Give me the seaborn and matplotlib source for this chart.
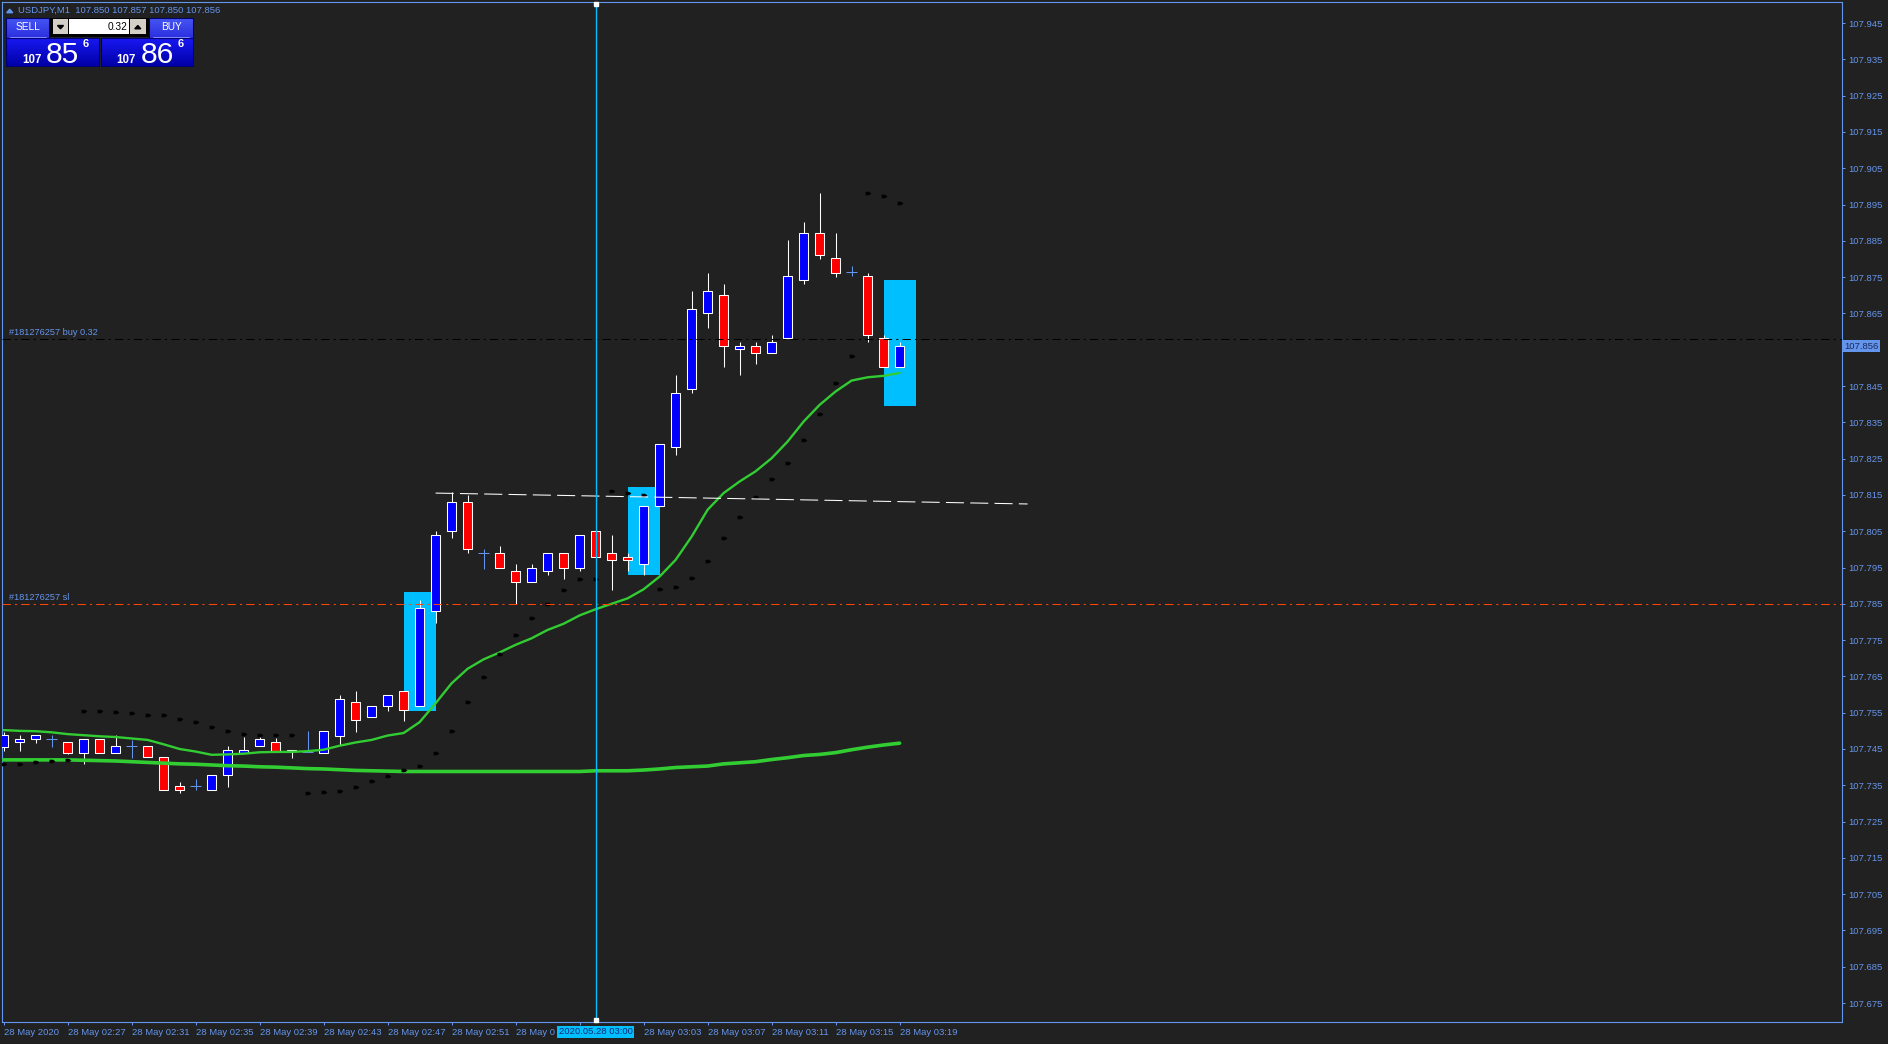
import matplotlib
matplotlib.use("Agg")
import matplotlib.pyplot as plt
from matplotlib.patches import Rectangle
from matplotlib.path import Path
from matplotlib.colors import LinearSegmentedColormap
from matplotlib.transforms import ScaledTranslation
import numpy as np
import seaborn as sns

# USDJPY M1 candles, 02:23 .. 03:19
opens = [107.7456, 107.7468, 107.7477, 107.7477, 107.7468, 107.7438, 107.7477, 107.7438, 107.7457, 107.7457,
         107.7427, 107.7347, 107.7347, 107.7336, 107.7377, 107.7440, 107.7457, 107.7468, 107.7446, 107.7443,
         107.7438, 107.7487, 107.7579, 107.7538, 107.7568, 107.7609, 107.7568, 107.7830, 107.8050, 107.8130,
         107.7989, 107.7989, 107.7940, 107.7910, 107.7940, 107.7989, 107.7948, 107.8050, 107.7989, 107.7978,
         107.7959, 107.8119, 107.8282, 107.8441, 107.8651, 107.8700, 107.8552, 107.8560, 107.8540, 107.8582,
         107.8742, 107.8871, 107.8802, 107.8764, 107.8753, 107.8582, 107.8502]
highs = [107.7498, 107.7488, 107.7488, 107.7488, 107.7468, 107.7477, 107.7477, 107.7488, 107.7475, 107.7457,
         107.7427, 107.7359, 107.7367, 107.7377, 107.7458, 107.7482, 107.7482, 107.7479, 107.7446, 107.7500,
         107.7500, 107.7599, 107.7610, 107.7568, 107.7598, 107.7609, 107.7861, 107.8051, 107.8159, 107.8151,
         107.8001, 107.8010, 107.7959, 107.7959, 107.7989, 107.7989, 107.8039, 107.8050, 107.8040, 107.7989,
         107.8119, 107.8290, 107.8481, 107.8712, 107.8762, 107.8731, 107.8571, 107.8571, 107.8591, 107.8853,
         107.8902, 107.8982, 107.8872, 107.8780, 107.8761, 107.8590, 107.8571]
lows = [107.7445, 107.7445, 107.7467, 107.7456, 107.7436, 107.7408, 107.7438, 107.7438, 107.7426, 107.7427,
        107.7336, 107.7328, 107.7336, 107.7336, 107.7346, 107.7440, 107.7457, 107.7443, 107.7426, 107.7443,
        107.7438, 107.7461, 107.7498, 107.7538, 107.7556, 107.7528, 107.7568, 107.7798, 107.8030, 107.7989,
        107.7946, 107.7948, 107.7849, 107.7910, 107.7928, 107.7918, 107.7939, 107.7978, 107.7888, 107.7939,
        107.7928, 107.8119, 107.8259, 107.8430, 107.8611, 107.8501, 107.8479, 107.8510, 107.8540, 107.8582,
        107.8731, 107.8800, 107.8751, 107.8752, 107.8570, 107.8502, 107.8502]
closes = [107.7488, 107.7477, 107.7488, 107.7477, 107.7438, 107.7477, 107.7438, 107.7457, 107.7457, 107.7427,
          107.7336, 107.7336, 107.7347, 107.7377, 107.7446, 107.7448, 107.7477, 107.7443, 107.7445, 107.7443,
          107.7500, 107.7587, 107.7529, 107.7568, 107.7598, 107.7558, 107.7838, 107.8039, 107.8130, 107.8000,
          107.7989, 107.7948, 107.7910, 107.7948, 107.7989, 107.7948, 107.8039, 107.7978, 107.7970, 107.7970,
          107.8119, 107.8290, 107.8430, 107.8662, 107.8711, 107.8560, 107.8560, 107.8540, 107.8571, 107.8753,
          107.8871, 107.8810, 107.8761, 107.8764, 107.8590, 107.8502, 107.8560]

fast_ma = [107.7502, 107.7500, 107.7499, 107.7496, 107.7491, 107.7488, 107.7485, 107.7483, 107.7479, 107.7475,
           107.7463, 107.7450, 107.7443, 107.7434, 107.7435, 107.7437, 107.7441, 107.7442, 107.7442, 107.7444,
           107.7448, 107.7459, 107.7468, 107.7475, 107.7487, 107.7494, 107.7524, 107.7576, 107.7631, 107.7671,
           107.7697, 107.7716, 107.7737, 107.7755, 107.7778, 107.7795, 107.7818, 107.7835, 107.7850, 107.7865,
           107.7890, 107.7925, 107.7971, 107.8035, 107.8109, 107.8155, 107.8187, 107.8215, 107.8251, 107.8297,
           107.8352, 107.8398, 107.8435, 107.8465, 107.8474, 107.8478, 107.8486]
slow_ma = [107.7420, 107.7420, 107.7420, 107.7420, 107.7420, 107.7419, 107.7418, 107.7417, 107.7415, 107.7413,
           107.7411, 107.7409, 107.7408, 107.7406, 107.7404, 107.7403, 107.7401, 107.7400, 107.7398, 107.7396,
           107.7395, 107.7393, 107.7391, 107.7390, 107.7389, 107.7388, 107.7388, 107.7388, 107.7388, 107.7388,
           107.7388, 107.7388, 107.7388, 107.7388, 107.7388, 107.7388, 107.7388, 107.7390, 107.7390, 107.7390,
           107.7392, 107.7395, 107.7399, 107.7401, 107.7403, 107.7409, 107.7412, 107.7415, 107.7421, 107.7426,
           107.7432, 107.7435, 107.7440, 107.7448, 107.7455, 107.7461, 107.7466]
sar = [107.7408, 107.7408, 107.7413, 107.7417, 107.7421, 107.7556, 107.7554, 107.7551, 107.7548, 107.7545,
       107.7543, 107.7534, 107.7523, 107.7510, 107.7499, 107.7490, 107.7488, 107.7488, 107.7488, 107.7328,
       107.7331, 107.7334, 107.7345, 107.7361, 107.7375, 107.7392, 107.7403, 107.7438, 107.7499, 107.7579,
       107.7648, 107.7711, 107.7764, 107.7810, 107.7849, 107.7888, 107.7918, 107.7918, 107.8160, 107.8155,
       107.8149, 107.7890, 107.7896, 107.7921, 107.7968, 107.8031, 107.8089, 107.8144, 107.8193, 107.8237,
       107.8301, 107.8372, 107.8458, 107.8532, 107.8981, 107.8973, 107.8954]

time_ticks = list(range(0, 57, 4))
# the 02:55 label is cut short by the highlighted 03:00 label, the 02:59 one is hidden by it
time_labels = ["28 May 2020", "28 May 02:27", "28 May 02:31", "28 May 02:35", "28 May 02:39",
               "28 May 02:43", "28 May 02:47", "28 May 02:51", "28 May 0", "",
               "28 May 03:03", "28 May 03:07", "28 May 03:11", "28 May 03:15", "28 May 03:19"]
price_ticks = [107.675, 107.685, 107.695, 107.705, 107.715, 107.725, 107.735, 107.745, 107.755, 107.765,
               107.775, 107.785, 107.795, 107.805, 107.815, 107.825, 107.835, 107.845, 107.855, 107.865,
               107.875, 107.885, 107.895, 107.905, 107.915, 107.925, 107.935, 107.945]

# cyan boxes: (from bar, to bar, low, high)
boxes = [(25, 27, 107.7556, 107.7883), (39, 41, 107.7928, 107.8172), (55, 57, 107.8396, 107.8743)]
trend_x = [27, 64]
trend_y = [107.8155, 107.8125]
buy_price = 107.858
sl_price = 107.785
bid = 107.856
vline_bar = 37

BG = "#212121"
FG = "cornflowerblue"
W, H = 1888, 1044

sns.set_theme(style="dark", rc={"axes.facecolor": BG, "figure.facecolor": BG})
plt.rcParams["font.family"] = ["Liberation Sans", "DejaVu Sans"]
plt.rcParams["lines.scale_dashes"] = False

fig = plt.figure(figsize=(W / 100, H / 100), dpi=100)
ax = fig.add_axes([2 / W, 22 / H, 1840 / W, 1020 / H])
ax.set_facecolor(BG)
ax.grid(False)

for b0, b1, lo, hi in boxes:
    ax.add_patch(Rectangle((b0, lo), b1 - b0, hi - lo, fc="#00BFFF", ec="none", zorder=1))

idx = np.arange(len(opens))
o = np.array(opens)
c = np.array(closes)
hi_ = np.array(highs)
lo_ = np.array(lows)
up = c > o
dn = c < o
dj = c == o

ax.vlines(idx[~dj], lo_[~dj], hi_[~dj], color="white", lw=0.75, zorder=3)
ax.vlines(idx[dj], lo_[dj], hi_[dj], color=FG, lw=0.75, zorder=3)
ax.bar(idx[up], (c - o)[up], bottom=o[up], width=0.56, color="#0000FF", edgecolor="white", linewidth=0.75, zorder=4)
ax.bar(idx[dn], (o - c)[dn], bottom=c[dn], width=0.56, color="#FF0000", edgecolor="white", linewidth=0.75, zorder=4)
ax.hlines(o[dj], idx[dj] - 0.33, idx[dj] + 0.33, color=FG, lw=0.75, zorder=4)

sns.lineplot(x=idx, y=slow_ma, color="#32CD32", lw=2.6, ax=ax, zorder=5)
sns.lineplot(x=idx, y=fast_ma, color="#32CD32", lw=1.7, ax=ax, zorder=5)

dot = Path([(-1, -0.6), (0.2, -0.6), (1, 0), (0.2, 0.6), (-1, 0.6), (-1, -0.6)])
sns.scatterplot(x=idx, y=sar, marker=dot, s=18, color="black", linewidth=0, ax=ax, zorder=6)

ax.plot(trend_x, trend_y, color="white", lw=0.75, dashes=(13, 4.5), zorder=6)
ax.axhline(buy_price, color="black", lw=0.75, dashes=(6, 3, 1.5, 3), zorder=6)
ax.axhline(sl_price, color="#FF4500", lw=0.75, dashes=(6, 3, 1.5, 3), zorder=6)
ax.axvline(vline_bar, color="#00BFFF", lw=1.0, zorder=7)
ax.plot([vline_bar, vline_bar], [0.002, 0.998], transform=ax.get_xaxis_transform(), ls="none",
        marker="s", ms=2.8, mfc="white", mec="white", clip_on=False, zorder=8)

ax.text(0.0038, 107.8597, "#181276257 buy 0.32", transform=ax.get_yaxis_transform(),
        color=FG, fontsize=6.6, ha="left", va="center", zorder=8)
ax.text(0.0038, 107.7866, "#181276257 sl", transform=ax.get_yaxis_transform(),
        color=FG, fontsize=6.6, ha="left", va="center", zorder=8)

ax.set_xlim(-0.1, 114.9)
ax.set_ylim(107.66979, 107.95079)
ax.set_xlabel("")
ax.set_ylabel("")

ax.yaxis.tick_right()
ax.set_yticks(price_ticks)
# 107.855 sits under the current price label
ax.set_yticklabels(["" if abs(p - bid) < 0.003 else f"{p:.3f}" for p in price_ticks])
ax.set_xticks(time_ticks)
ax.set_xticklabels(time_labels)
shift = ScaledTranslation(-1.5 / 100, 0, fig.dpi_scale_trans)
for lbl in ax.get_xticklabels():
    lbl.set_horizontalalignment("left")
    lbl.set_transform(lbl.get_transform() + shift)
ax.tick_params(axis="both", colors=FG, labelcolor=FG, labelsize=6.8, length=2.5, width=0.75,
               direction="out", pad=2, bottom=True, right=True, left=False, top=False)
for s in ax.spines.values():
    s.set_color(FG)
    s.set_linewidth(0.8)

ax.text(1.0012, bid, f"{bid:.3f}", transform=ax.get_yaxis_transform(), ha="left", va="center",
        fontsize=6.8, color="#1c2a5a", clip_on=False, zorder=9,
        bbox=dict(boxstyle="square,pad=0.2", fc=FG, ec="none"))
ax.text(vline_bar, -0.0098, "2020.05.28 03:00", transform=ax.get_xaxis_transform(), ha="center",
        va="center", fontsize=6.8, color="#102a70", clip_on=False, zorder=9,
        bbox=dict(boxstyle="square,pad=0.2", fc="#00BFFF", ec="none"))

# one-click trading panel, drawn in pixel coordinates
ov = fig.add_axes([0, 0, 1, 1], zorder=10)
ov.patch.set_alpha(0)
ov.axis("off")


def grad_box(x0, y0, x1, y1, top, bot):
    cmap = LinearSegmentedColormap.from_list("g", [top, bot])
    ov.imshow(np.linspace(0, 1, 32).reshape(-1, 1), cmap=cmap, extent=(x0, x1, y1, y0),
              aspect="auto", interpolation="bilinear", zorder=2)
    ov.add_patch(Rectangle((x0, y0), x1 - x0, y1 - y0, fc="none", ec="#000070", lw=0.75, zorder=3))


grad_box(6, 18.3, 49.3, 37.7, "#4656F2", "#2B2FE0")
grad_box(149.3, 18.3, 192.7, 37.7, "#4656F2", "#2B2FE0")
grad_box(6, 37.7, 98.7, 65.7, "#1818F2", "#0000A8")
grad_box(101.3, 37.7, 192.7, 65.7, "#1818F2", "#0000A8")
ov.add_patch(Rectangle((50, 18.3), 98.7, 18.4, fc="black", ec="none", zorder=2))
ov.add_patch(Rectangle((52.7, 19.3), 15.6, 15, fc="#D4D0C8", ec="none", zorder=3))
ov.add_patch(Rectangle((130, 19.3), 15.7, 15, fc="#D4D0C8", ec="none", zorder=3))
ov.add_patch(Rectangle((69, 19.3), 60.3, 15, fc="white", ec="none", zorder=3))
ov.fill([57.5, 63.5, 60.5], [25.5, 25.5, 28.8], color="black", zorder=4)
ov.fill([134.8, 140.8, 137.8], [28.8, 28.8, 25.5], color="black", zorder=4)
ov.plot([10, 46], [37.3, 37.3], color="#8C9CFF", lw=0.6, zorder=4)
ov.plot([153, 189], [37.3, 37.3], color="#8C9CFF", lw=0.6, zorder=4)
ov.fill([6.7, 12.7, 9.7], [12.7, 12.7, 9.2], color=FG, zorder=4)

ov.text(27.7, 27.5, "SELL", color="white", fontsize=7.3, ha="center", va="center", zorder=5)
ov.text(171, 27.5, "BUY", color="white", fontsize=7.3, ha="center", va="center", zorder=5)
ov.text(127.5, 27, "0.32", color="black", fontsize=7.3, ha="right", va="center", zorder=5)
ov.text(18, 10.8, "USDJPY,M1  107.850 107.857 107.850 107.856", color=FG, fontsize=6.8,
        ha="left", va="center", zorder=5)
ov.text(22.5, 63.3, "107", color="white", fontsize=8.3, fontweight="bold", ha="left", va="baseline", zorder=5)
ov.text(46, 63.3, "85", color="white", fontsize=21.6, ha="left", va="baseline", zorder=5)
ov.text(83, 47.3, "6", color="white", fontsize=8, fontweight="bold", ha="left", va="baseline", zorder=5)
ov.text(116.5, 63.3, "107", color="white", fontsize=8.3, fontweight="bold", ha="left", va="baseline", zorder=5)
ov.text(141, 63.3, "86", color="white", fontsize=21.6, ha="left", va="baseline", zorder=5)
ov.text(177.5, 47.3, "6", color="white", fontsize=8, fontweight="bold", ha="left", va="baseline", zorder=5)
ov.set_xlim(0, W)
ov.set_ylim(H, 0)

fig.savefig("out.png", dpi=100, facecolor=BG)
